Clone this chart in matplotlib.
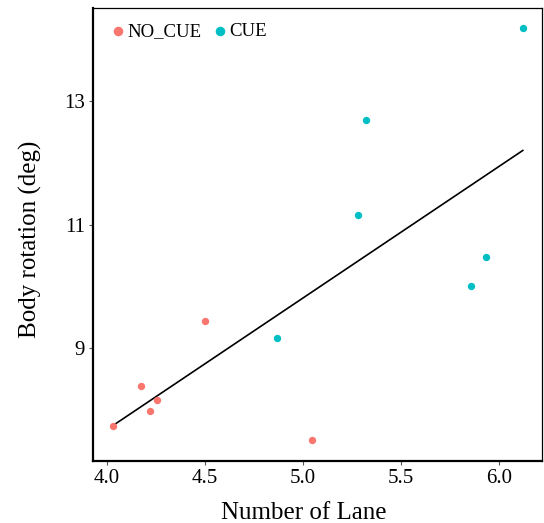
import numpy as np
import matplotlib.pyplot as plt

plt.rcParams['font.family'] = ['Liberation Serif', 'DejaVu Serif']

# data
no_cue_x = [4.031, 4.173, 4.219, 4.255, 4.500, 5.046]
no_cue_y = [7.737, 8.385, 7.980, 8.158, 9.437, 7.510]
cue_x = [4.867, 5.281, 5.321, 5.857, 5.934, 6.122]
cue_y = [9.162, 11.162, 12.690, 10.004, 10.474, 14.180]

xticks = [4.0, 4.5, 5.0, 5.5, 6.0]
yticks = [9, 11, 13]

fig = plt.figure(figsize=(5.44, 5.23), dpi=100)
ax = fig.add_axes([0.171, 0.1185, 0.825, 0.8665])

ax.scatter(no_cue_x, no_cue_y, s=28, color='#F8766D', label='NO_CUE', zorder=3, linewidths=0)
ax.scatter(cue_x, cue_y, s=28, color='#00BFC4', label='CUE', zorder=3, linewidths=0)

# linear fit over all points
all_x = np.array(no_cue_x + cue_x)
all_y = np.array(no_cue_y + cue_y)
b, a = np.polyfit(all_x, all_y, 1)
xs = np.array([all_x.min(), all_x.max()])
ax.plot(xs, a + b * xs, color='black', linewidth=1.2, zorder=2)

ax.set_xlim(3.929, 6.219)
ax.set_ylim(7.17, 14.51)
ax.set_xticks(xticks)
ax.set_xticklabels(['4.0', '4.5', '5.0', '5.5', '6.0'])
ax.set_yticks(yticks)
ax.tick_params(labelsize=15, length=3, color='#555555', width=0.8, pad=3)

for side in ['left', 'bottom']:
    ax.spines[side].set_linewidth(1.6)
for side in ['top', 'right']:
    ax.spines[side].set_linewidth(0.9)

ax.set_xlabel('Number of Lane', fontsize=18, va='center')
ax.xaxis.set_label_coords(0.469, -0.114)
ax.set_ylabel('Body rotation (deg)', fontsize=18, va='center')
ax.yaxis.set_label_coords(-0.139, 0.489)

ax.legend(loc='upper left', bbox_to_anchor=(0.0223, 0.983), borderaxespad=0,
          frameon=False, ncol=2, fontsize=13.5, handlelength=0.8, handletextpad=0.08,
          columnspacing=0.61, markerscale=1.3)

fig.savefig('out.png', dpi=100)
